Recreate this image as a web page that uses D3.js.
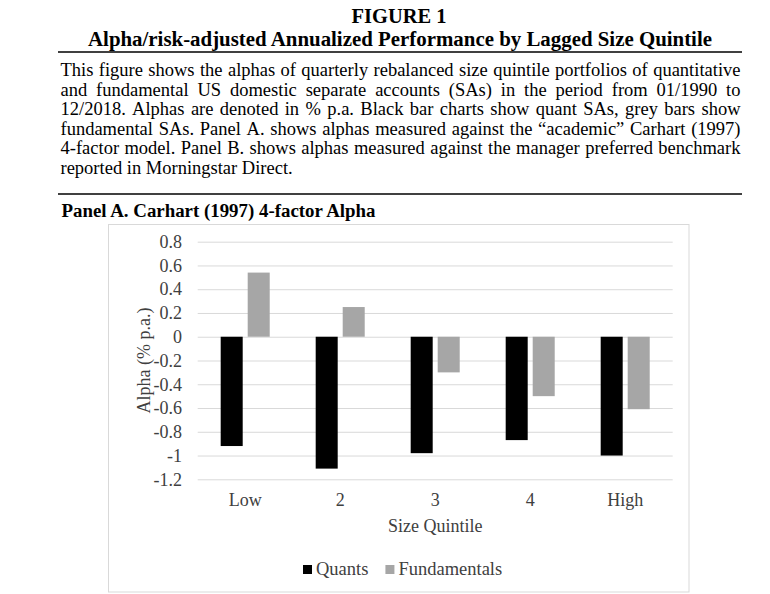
<!DOCTYPE html>
<html>
<head>
<meta charset="utf-8">
<script src="https://cdn.jsdelivr.net/npm/d3@7"></script>
<style>
  html, body { margin: 0; padding: 0; background: #fff; }
  svg { display: block; }
  text { font-family: "Liberation Serif", "Times New Roman", serif; }
</style>
</head>
<body>
<svg id="chart" width="770" height="594"></svg>
<script>
// ---- data ----
const categories = ["Low", "2", "3", "4", "High"];
const seriesNames = ["Quants", "Fundamentals"];
const quants = [-0.92, -1.11, -0.98, -0.87, -1.00];
const fundamentals = [0.54, 0.25, -0.30, -0.50, -0.61];
const yTicks = [0.8, 0.6, 0.4, 0.2, 0, -0.2, -0.4, -0.6, -0.8, -1, -1.2];
const figureLabel = "FIGURE 1";
const figureTitle = "Alpha/risk-adjusted Annualized Performance by Lagged Size Quintile";
const captionLines = [
  "This figure shows the alphas of quarterly rebalanced size quintile portfolios of quantitative",
  "and fundamental US domestic separate accounts (SAs) in the period from 01/1990 to",
  "12/2018. Alphas are denoted in % p.a. Black bar charts show quant SAs, grey bars show",
  "fundamental SAs. Panel A. shows alphas measured against the \u201cacademic\u201d Carhart (1997)",
  "4-factor model. Panel B. shows alphas measured against the manager preferred benchmark",
  "reported in Morningstar Direct."
];
const panelTitle = "Panel A. Carhart (1997) 4-factor Alpha";
const yAxisTitle = "Alpha (% p.a.)";
const xAxisTitle = "Size Quintile";

const svg = d3.select("#chart");

// helper: fit text to a target width by adjusting font size
function fitText(sel, targetWidth) {
  const fs = parseFloat(sel.attr("font-size"));
  const w = sel.node().getComputedTextLength();
  if (w > 0) sel.attr("font-size", (fs * targetWidth / w).toFixed(2));
  return sel;
}

// ---- header ----
fitText(svg.append("text").attr("x", 399).attr("y", 23).attr("text-anchor", "middle")
  .attr("font-size", 20).attr("font-weight", "bold").attr("fill", "#000").text(figureLabel), 95);
fitText(svg.append("text").attr("x", 400).attr("y", 45.5).attr("text-anchor", "middle")
  .attr("font-size", 20).attr("font-weight", "bold").attr("fill", "#000").text(figureTitle), 624);

svg.append("line").attr("x1", 58).attr("x2", 742).attr("y1", 52).attr("y2", 52)
  .attr("stroke", "#000").attr("stroke-width", 1.5);

// ---- caption (justified) ----
const capLeft = 60.5, capRight = 740.5, capFont = 18.5, capY0 = 76, capDy = 19.6;
captionLines.forEach((line, i) => {
  const y = capY0 + i * capDy;
  const words = line.split(" ");
  const t = svg.append("text").attr("y", y).attr("font-size", capFont).attr("fill", "#000");
  if (i === captionLines.length - 1) {
    t.attr("x", capLeft).text(line);
    return;
  }
  const spans = words.map(w => t.append("tspan").text(w));
  const widths = spans.map(s => s.node().getComputedTextLength());
  const total = d3.sum(widths);
  const gap = (capRight - capLeft - total) / (words.length - 1);
  let x = capLeft;
  spans.forEach((s, k) => { s.attr("x", x); x += widths[k] + gap; });
});

svg.append("line").attr("x1", 58).attr("x2", 742).attr("y1", 194).attr("y2", 194)
  .attr("stroke", "#000").attr("stroke-width", 1.5);

fitText(svg.append("text").attr("x", 61.5).attr("y", 217)
  .attr("font-size", 18.5).attr("font-weight", "bold").attr("fill", "#000").text(panelTitle), 314);

// ---- chart frame ----
svg.append("rect").attr("x", 108.5).attr("y", 224.5).attr("width", 580.5).attr("height", 367.5)
  .attr("fill", "none").attr("stroke", "#d9d9d9").attr("stroke-width", 1);

const plotLeft = 197.7, plotRight = 672.7, plotTop = 241.7, plotBottom = 479.3;

const y = d3.scaleLinear().domain([-1.2, 0.8]).range([plotBottom, plotTop]);
const x0 = d3.scaleBand().domain(categories).range([plotLeft, plotRight])
  .paddingInner(0.484).paddingOuter(0.242);
const x1 = d3.scaleBand().domain(seriesNames).range([0, x0.bandwidth()])
  .paddingInner(5 / 27).paddingOuter(0);
const color = d3.scaleOrdinal().domain(seriesNames).range(["#000000", "#a6a6a6"]);

const fmt = d => (Math.abs(d) < 1e-9 ? "0" : String(+d.toFixed(1)));

// gridlines + tick labels via axis
const yAxis = d3.axisLeft(y).tickValues(yTicks).tickFormat(fmt)
  .tickSize(-(plotRight - plotLeft)).tickPadding(15.7);
const gy = svg.append("g").attr("transform", `translate(${plotLeft},0)`).call(yAxis);
gy.select(".domain").remove();
gy.selectAll(".tick line").attr("stroke", "#d9d9d9").attr("stroke-width", 1);
gy.selectAll(".tick text").attr("font-size", 18).attr("fill", "#404040")
  .attr("font-family", "Liberation Serif, Times New Roman, serif");

// bars
const rows = categories.map((c, i) => ({ cat: c, values: [
  { key: "Quants", v: quants[i] }, { key: "Fundamentals", v: fundamentals[i] } ] }));
const groups = svg.append("g").selectAll("g").data(rows).join("g")
  .attr("transform", d => `translate(${x0(d.cat)},0)`);
groups.selectAll("rect").data(d => d.values).join("rect")
  .attr("x", d => x1(d.key))
  .attr("width", x1.bandwidth())
  .attr("y", d => y(Math.max(0, d.v)))
  .attr("height", d => Math.abs(y(d.v) - y(0)))
  .attr("fill", d => color(d.key));

// x axis labels
const xAxis = d3.axisBottom(x0).tickSize(0).tickPadding(0);
const gx = svg.append("g").attr("transform", `translate(0,${plotBottom})`).call(xAxis);
gx.select(".domain").remove();
gx.selectAll(".tick text").attr("font-size", 18).attr("fill", "#404040")
  .attr("font-family", "Liberation Serif, Times New Roman, serif")
  .attr("dy", null).attr("y", 506 - plotBottom);

// axis titles
svg.append("text").attr("x", (plotLeft + plotRight) / 2).attr("y", 532)
  .attr("text-anchor", "middle").attr("font-size", 18).attr("fill", "#404040").text(xAxisTitle);
svg.append("text").attr("transform", `translate(150,${(plotTop + plotBottom) / 2}) rotate(-90)`)
  .attr("text-anchor", "middle").attr("font-size", 18).attr("fill", "#404040").text(yAxisTitle);

// legend
const legend = svg.append("g").attr("transform", "translate(303,575)");
const legendItems = legend.selectAll("g").data(seriesNames).join("g");
legendItems.append("rect").attr("width", 9).attr("height", 9).attr("y", -10)
  .attr("fill", d => color(d));
legendItems.append("text").attr("x", 13).attr("y", 0).attr("font-size", 18.5)
  .attr("fill", "#404040").text(d => d);
let lx = 0;
const itemX = [];
legendItems.each(function () {
  itemX.push(lx);
  const w = this.getBBox().width;
  lx += w + 17;
});
legendItems.attr("transform", (d, i) => `translate(${itemX[i]},0)`);
</script>
</body>
</html>
